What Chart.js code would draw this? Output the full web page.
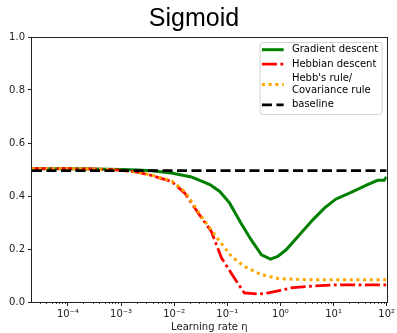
<!DOCTYPE html>
<html>
<head>
<meta charset="utf-8">
<script src="https://cdn.jsdelivr.net/npm/chart.js@4/dist/chart.umd.min.js"></script>
<style>
  html, body { margin: 0; padding: 0; background: #fff; }
  #chart { display: block; }
</style>
</head>
<body>
<canvas id="chart" width="397" height="333"></canvas>
<script>
// learning rate (eta) and accuracy
const gradEta = [2.1e-5, 1e-4, 3.2e-4, 1e-3, 2e-3, 0.0037, 0.0089, 0.021, 0.047, 0.072, 0.11, 0.18, 0.28, 0.44, 0.65, 0.89, 1.28, 2.45, 4.07, 6.8, 11, 21.4, 43.7, 67.6, 89, 100];
const gradAcc = [0.503, 0.503, 0.502, 0.500, 0.498, 0.495, 0.487, 0.472, 0.443, 0.417, 0.374, 0.298, 0.235, 0.178, 0.162, 0.172, 0.197, 0.26, 0.31, 0.355, 0.388, 0.414, 0.443, 0.459, 0.459, 0.472];

const hebbEta = [2.1e-5, 1e-4, 3.2e-4, 8.9e-4, 2e-3, 0.0037, 0.0089, 0.0158, 0.0282, 0.05, 0.078, 0.129, 0.209, 0.4, 0.63, 1, 1.58, 4.37, 12, 100];
const hebbAcc = [0.503, 0.503, 0.502, 0.498, 0.49, 0.478, 0.455, 0.411, 0.336, 0.266, 0.166, 0.097, 0.034, 0.03, 0.035, 0.044, 0.053, 0.061, 0.065, 0.065];

const covEta = [2.1e-5, 1e-4, 3.2e-4, 8.9e-4, 2e-3, 0.0037, 0.0089, 0.0158, 0.0324, 0.068, 0.12, 0.209, 0.44, 0.95, 3.16, 100];
const covAcc = [0.503, 0.503, 0.502, 0.498, 0.49, 0.479, 0.457, 0.417, 0.323, 0.235, 0.172, 0.134, 0.103, 0.088, 0.084, 0.084];

const baseEta = [2.1e-5, 100];
const baseAcc = [0.496, 0.496];

const seriesNames = ['Gradient descent', 'Hebbian descent', "Hebb's rule/\nCovariance rule", 'baseline'];
const yTicks = [0, 0.2, 0.4, 0.6, 0.8, 1.0];
const xMin = 2.1e-5, xMax = 100;

const sup = { '-': '\u207B', '0': '\u2070', '1': '\u00B9', '2': '\u00B2', '3': '\u00B3', '4': '\u2074', '5': '\u2075', '6': '\u2076', '7': '\u2077', '8': '\u2078', '9': '\u2079' };
const isPow10 = v => Math.abs(Math.log10(v) - Math.round(Math.log10(v))) < 1e-6;
const pow10Label = v => '10' + String(Math.round(Math.log10(v))).split('').map(c => sup[c]).join('');

const toPoints = (xs, ys) => xs.map((x, i) => ({ x: x, y: ys[i] }));

// axes frame on all four sides
const framePlugin = {
    id: 'frame',
    afterDatasetsDraw(chart) {
        const { ctx, chartArea } = chart;
        ctx.save();
        ctx.strokeStyle = '#222';
        ctx.lineWidth = 1;
        ctx.strokeRect(Math.round(chartArea.left) - 0.5, Math.round(chartArea.top) + 0.5,
            Math.round(chartArea.right - chartArea.left) + 1, Math.round(chartArea.bottom - chartArea.top));
        ctx.restore();
    }
};

// matplotlib-style boxed legend in the upper right
const legendPlugin = {
    id: 'boxLegend',
    afterDraw(chart) {
        const { ctx, chartArea } = chart;
        const w = 122, h = 72;
        const x0 = chartArea.right - 5 - w, y0 = chartArea.top + 5;
        ctx.save();
        ctx.beginPath();
        ctx.roundRect(x0 + 0.5, y0 + 0.5, w, h, 2.5);
        ctx.fillStyle = 'rgba(255,255,255,0.85)';
        ctx.fill();
        ctx.strokeStyle = '#d4d4d4';
        ctx.lineWidth = 1;
        ctx.stroke();

        ctx.font = '10px "DejaVu Sans"';
        ctx.textBaseline = 'middle';
        let y = y0 + 7.7;
        chart.data.datasets.forEach((ds, i) => {
            const lines = seriesNames[i].split('\n');
            const mid = y + (lines.length - 1) * 11.7 / 2;
            ctx.beginPath();
            ctx.setLineDash(ds.borderDash || []);
            ctx.lineCap = 'butt';
            ctx.strokeStyle = ds.borderColor;
            ctx.lineWidth = ds.borderWidth;
            ctx.moveTo(x0 + 2.3, mid);
            ctx.lineTo(x0 + 24, mid);
            ctx.stroke();
            ctx.setLineDash([]);
            ctx.fillStyle = '#000';
            lines.forEach((t, k) => ctx.fillText(t, x0 + 32.3, y + k * 11.7));
            y += (lines.length - 1) * 11.7 + 14.5;
        });
        ctx.restore();
    }
};

new Chart(document.getElementById('chart').getContext('2d'), {
    type: 'line',
    data: {
        datasets: [
            {
                label: 'Gradient descent',
                data: toPoints(gradEta, gradAcc),
                borderColor: '#008000',
                borderWidth: 3,
                order: 3
            },
            {
                label: 'Hebbian descent',
                data: toPoints(hebbEta, hebbAcc),
                borderColor: '#ff0000',
                borderWidth: 2.8,
                borderDash: [15, 3.5, 2.8, 3.5],
                order: 2
            },
            {
                label: "Hebb's rule/Covariance rule",
                data: toPoints(covEta, covAcc),
                borderColor: '#ffa500',
                borderWidth: 3,
                borderDash: [3, 3.7],
                order: 1
            },
            {
                label: 'baseline',
                data: toPoints(baseEta, baseAcc),
                borderColor: '#000000',
                borderWidth: 2.8,
                borderDash: [10, 4.5],
                order: 0
            }
        ]
    },
    options: {
        responsive: false,
        animation: false,
        devicePixelRatio: 1,
        layout: { padding: { top: 0, right: 9, bottom: 0, left: 0 } },
        elements: {
            point: { radius: 0 },
            line: { tension: 0, borderCapStyle: 'butt', fill: false }
        },
        plugins: {
            legend: { display: false },
            tooltip: { enabled: false },
            title: {
                display: true,
                text: 'Sigmoid',
                color: '#000',
                font: { family: 'Liberation Sans', size: 25, weight: 'normal' },
                padding: { top: 4, bottom: 3 }
            }
        },
        scales: {
            x: {
                type: 'logarithmic',
                min: xMin,
                max: xMax,
                border: { display: false },
                grid: {
                    drawOnChartArea: false,
                    drawTicks: true,
                    tickLength: 4,
                    tickColor: '#222',
                    tickWidth: ctx => (ctx.tick && isPow10(ctx.tick.value)) ? 1 : 0.8,
                    tickBorderDash: ctx => (ctx.tick && isPow10(ctx.tick.value)) ? [] : [2, 10]
                },
                afterBuildTicks: scale => {
                    const t = [];
                    for (let p = -5; p <= 2; p++) {
                        for (let m = 1; m < 10; m++) {
                            const v = m * Math.pow(10, p);
                            if (v >= xMin * 0.999 && v <= xMax * 1.001) t.push({ value: v });
                        }
                    }
                    scale.ticks = t;
                },
                ticks: {
                    autoSkip: false,
                    maxRotation: 0,
                    padding: 2,
                    color: '#222',
                    font: { family: 'DejaVu Sans', size: 10 },
                    callback: value => isPow10(value) ? pow10Label(value) : ''
                },
                title: {
                    display: true,
                    text: 'Learning rate \u03B7',
                    color: '#222',
                    font: { family: 'DejaVu Sans', size: 10 },
                    padding: { top: 0, bottom: 0 }
                },
                afterFit: scale => { scale.height = 31; }
            },
            y: {
                min: 0,
                max: 1,
                border: { display: false },
                grid: {
                    drawOnChartArea: false,
                    drawTicks: true,
                    tickLength: 4,
                    tickColor: '#222',
                    tickWidth: 1
                },
                afterBuildTicks: scale => {
                    scale.ticks = yTicks.map(v => ({ value: v }));
                },
                ticks: {
                    padding: 3,
                    color: '#222',
                    font: { family: 'DejaVu Sans', size: 10 },
                    callback: value => value.toFixed(1)
                },
                afterFit: scale => { scale.width = 32; }
            }
        }
    },
    plugins: [framePlugin, legendPlugin]
});
</script>
</body>
</html>
